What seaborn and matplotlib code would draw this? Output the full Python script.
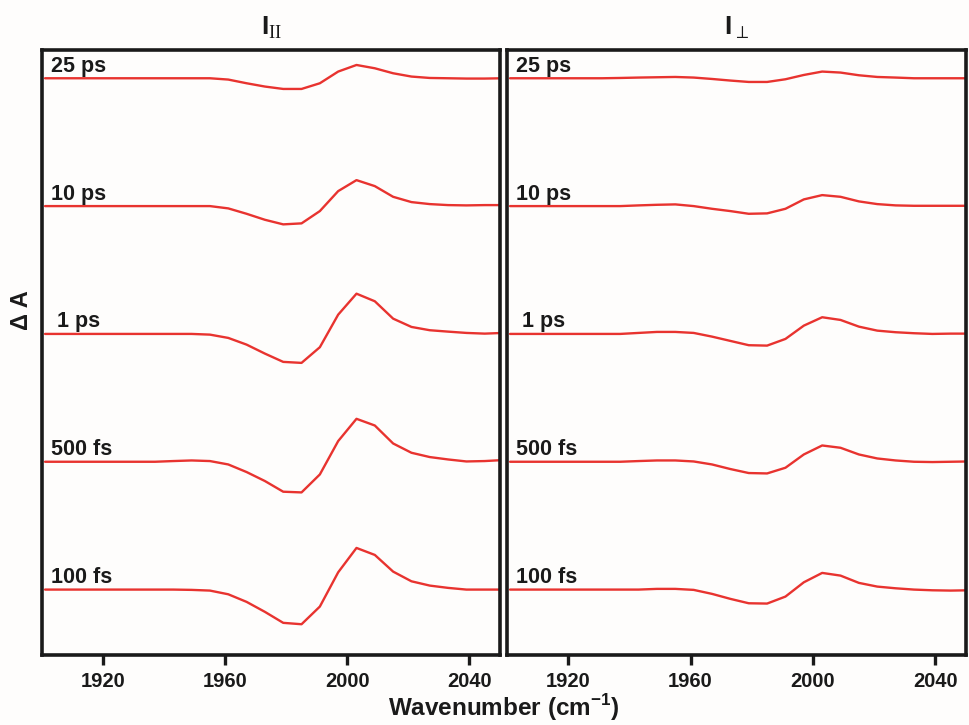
import numpy as np
import matplotlib
matplotlib.use("Agg")
import matplotlib.pyplot as plt
from matplotlib import font_manager
import seaborn as sns

# ---------------------------------------------------------------- data
wavenumber = [1901, 1907, 1913, 1919, 1925, 1931, 1937, 1943, 1949, 1955,
              1961, 1967, 1973, 1979, 1985, 1991, 1997, 2003, 2009, 2015,
              2021, 2027, 2033, 2039, 2045, 2051]

delays = ["25 ps", "10 ps", " 1 ps", "500 fs", "100 fs"]

# transient absorption, parallel polarisation (mOD)
par_25ps = [0, 0, 0, 0, 0, 0, 0, 0, 0, 0, -0.13, -0.50, -0.83, -1.07, -1.07,
            -0.50, 0.67, 1.33, 1.00, 0.50, 0.17, 0.03, 0, -0.03, -0.03, 0]
par_10ps = [0, 0, 0, 0, 0, 0, 0, 0, 0, 0, -0.23, -0.77, -1.37, -1.83, -1.73,
            -0.50, 1.50, 2.60, 2.00, 0.93, 0.40, 0.20, 0.10, 0.07, 0.10, 0.10]
par_1ps = [0, 0, 0, 0, 0, 0, 0, 0, 0, -0.07, -0.40, -1.07, -1.97, -2.80, -2.90,
           -1.33, 1.93, 4.03, 3.27, 1.53, 0.70, 0.37, 0.23, 0.10, 0.03, 0.10]
par_500fs = [0, 0, 0, 0, 0, 0, 0, 0.07, 0.13, 0.07, -0.27, -1.03, -1.93, -3.00,
             -3.07, -1.27, 2.07, 4.30, 3.63, 1.83, 0.90, 0.47, 0.23, 0.03, 0.07,
             0.17]
par_100fs = [0, 0, 0, 0, 0, 0, 0, 0, -0.03, -0.10, -0.47, -1.23, -2.23, -3.33,
             -3.47, -1.70, 1.73, 4.17, 3.47, 1.80, 0.83, 0.40, 0.17, 0, 0, 0]

# transient absorption, perpendicular polarisation (mOD)
perp_25ps = [0, 0, 0, 0, 0, 0, 0.03, 0.07, 0.10, 0.13, 0.07, -0.07, -0.23,
             -0.37, -0.37, -0.10, 0.33, 0.67, 0.57, 0.30, 0.13, 0.07, 0, 0, 0, 0]
perp_10ps = [0, 0, 0, 0, 0, 0, 0, 0.07, 0.13, 0.17, 0, -0.27, -0.50, -0.77,
             -0.73, -0.27, 0.67, 1.10, 0.93, 0.47, 0.20, 0.07, 0.03, 0.03, 0.03,
             0.03]
perp_1ps = [0, 0, 0, 0, 0, 0, 0, 0.10, 0.20, 0.20, 0.10, -0.27, -0.70, -1.13,
            -1.17, -0.50, 0.83, 1.67, 1.40, 0.73, 0.33, 0.17, 0.07, 0, 0.03, 0.03]
perp_500fs = [0, 0, 0, 0, 0, 0, 0, 0.07, 0.13, 0.13, 0.03, -0.27, -0.73, -1.13,
              -1.17, -0.60, 0.73, 1.63, 1.40, 0.73, 0.33, 0.13, 0, -0.03, 0,
              0.03]
perp_100fs = [0, 0, 0, 0, 0, 0, 0, 0, 0.07, 0.07, -0.03, -0.43, -0.93, -1.37,
              -1.40, -0.70, 0.73, 1.67, 1.40, 0.67, 0.30, 0.13, 0, -0.07, -0.10,
              -0.07]

parallel = [par_25ps, par_10ps, par_1ps, par_500fs, par_100fs]
perpendicular = [perp_25ps, perp_10ps, perp_1ps, perp_500fs, perp_100fs]

xticks = [1920, 1960, 2000, 2040]

# ---------------------------------------------------------------- style
sns.set_theme(style="white")
names = {f.name for f in font_manager.fontManager.ttflist}
narrow = "Liberation Sans Narrow" if "Liberation Sans Narrow" in names else "Liberation Sans"
plt.rcParams["font.family"] = ["Liberation Sans", "DejaVu Sans"]
plt.rcParams["mathtext.fontset"] = "custom"
plt.rcParams["mathtext.rm"] = "Liberation Serif"
plt.rcParams["mathtext.bf"] = "Liberation Sans:bold"

RED = "#e8332f"
INK = "#1a1a1a"
BG = "#fefdfc"
offsets = [51.2, 38.4, 25.6, 12.8, 0.0]   # vertical stacking of the delays

W, H = 969, 725
fig = plt.figure(figsize=(W / 100, H / 100), dpi=100, facecolor=BG)
bottom = 1 - 655 / H
height = 605 / H
ax_par = fig.add_axes([42 / W, bottom, 458 / W, height])
ax_perp = fig.add_axes([507 / W, bottom, 459 / W, height])

titles = [r"$\mathbf{I}_{\mathrm{II}}$", r"$\mathbf{I}_{\perp}$"]

for ax, traces, title in zip([ax_par, ax_perp], [parallel, perpendicular], titles):
    ax.set_facecolor(BG)
    for trace, off, label in zip(traces, offsets, delays):
        sns.lineplot(x=wavenumber, y=np.asarray(trace) + off, ax=ax,
                     color=RED, lw=1.7, estimator=None, sort=False)
        ax.text(1903, off + 0.65, label, fontsize=15.5, fontweight="bold",
                color=INK, ha="left", va="baseline")
    ax.set_xlim(1900, 2050)
    ax.set_ylim(-6.55, 54.03)
    ax.set_xticks(xticks)
    ax.set_yticks([])
    ax.tick_params(axis="x", direction="out", length=7, width=2.4,
                   color=INK, pad=5, bottom=True)
    for lab in ax.get_xticklabels():
        lab.set_fontfamily([narrow, "DejaVu Sans"])
        lab.set_fontweight("bold")
        lab.set_fontsize(14.5)
        lab.set_color(INK)
    for sp in ax.spines.values():
        sp.set_visible(True)
        sp.set_linewidth(2.6)
        sp.set_color(INK)
    ax.set_title(title, fontsize=19, color=INK, pad=11)

fig.text(504 / W, 1 - 708 / H, r"Wavenumber (cm$^{\mathbf{-1}}$)",
         fontsize=17.5, fontweight="bold", family=[narrow, "DejaVu Sans"],
         ha="center", va="center", color=INK)
fig.text(22 / W, 1 - 310 / H, "Δ A", rotation=90, fontsize=17,
         fontweight="bold", ha="center", va="center", color=INK)

fig.savefig("out.png", dpi=100, facecolor=BG)
